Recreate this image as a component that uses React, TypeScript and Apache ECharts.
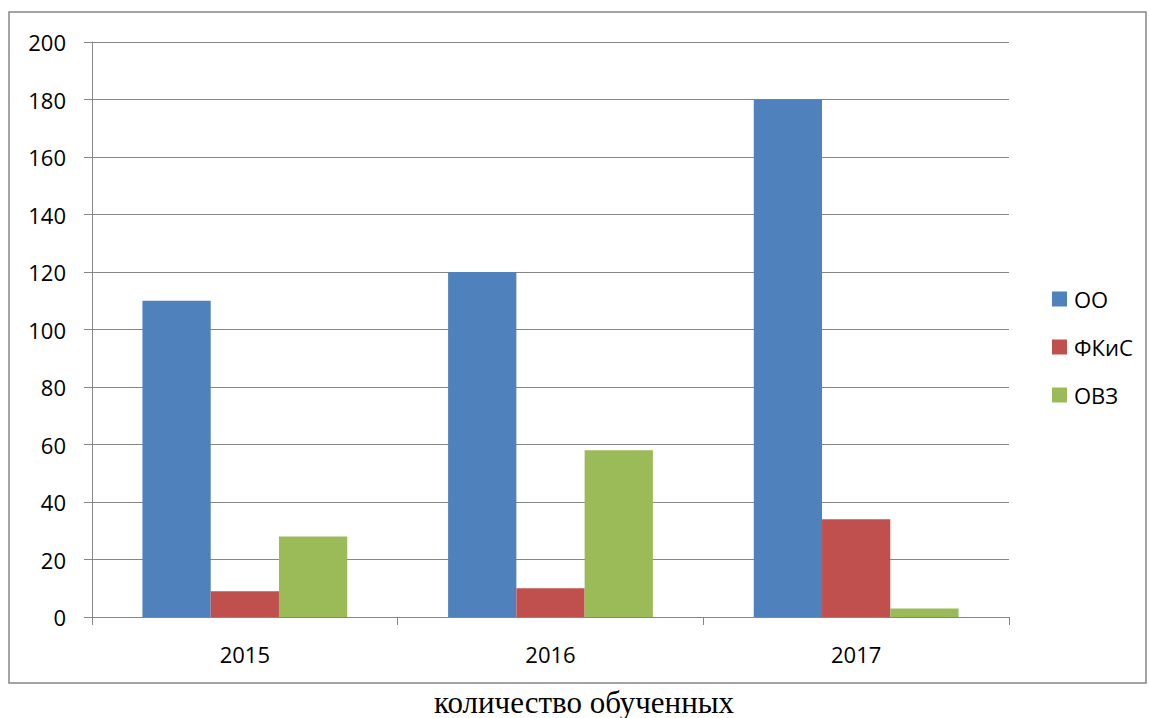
import React, { useEffect, useRef } from "react";
import * as echarts from "echarts";

const categories = ["2015", "2016", "2017"];
const seriesNames = ["ОО", "ФКиС", "ОВЗ"];
const valuesOO = [110, 120, 180];
const valuesFKiS = [9, 10, 34];
const valuesOVZ = [28, 58, 3];
const colors = ["#4F81BD", "#C0504D", "#9BBB59"];
const titleText = "количество обученных";

export default function App() {
  const ref = useRef<HTMLDivElement>(null);
  useEffect(() => {
    if (!ref.current) return;
    const chart = echarts.init(ref.current, null, { renderer: "svg" });
    const font = "Open Sans";
    const gray = "#868686";
    const data = [valuesOO, valuesFKiS, valuesOVZ];
    chart.setOption({
      animation: false,
      backgroundColor: "#fff",
      grid: { left: 92, right: 140, top: 42, bottom: 101, containLabel: false },
      legend: {
        orient: "vertical",
        left: 1052,
        top: 288,
        padding: 0,
        itemWidth: 15,
        itemHeight: 15,
        itemGap: 26,
        icon: "rect",
        textStyle: { fontFamily: font, fontSize: 22, color: "#000", lineHeight: 22, padding: [0, 0, 0, 2] },
        data: seriesNames,
      },
      xAxis: {
        type: "category",
        data: categories,
        axisLine: { lineStyle: { color: gray, width: 1 } },
        axisTick: { show: true, length: 8, lineStyle: { color: gray } },
        axisLabel: { fontFamily: font, fontSize: 22, color: "#000", margin: 26 },
      },
      yAxis: {
        type: "value",
        min: 0,
        max: 200,
        interval: 20,
        axisLine: { show: true, lineStyle: { color: gray, width: 1 } },
        axisTick: { show: true, length: 8, lineStyle: { color: gray } },
        axisLabel: { fontFamily: font, fontSize: 22, color: "#000", margin: 26 },
        splitLine: { lineStyle: { color: gray, width: 1 } },
      },
      series: seriesNames.map((name, i) => ({
        name,
        type: "bar",
        data: data[i],
        barGap: "0%",
        barCategoryGap: "33%",
        itemStyle: { color: colors[i] },
      })),
      graphic: [
        {
          type: "rect",
          shape: { x: 9, y: 12, width: 1137, height: 671 },
          style: { fill: "none", stroke: gray, lineWidth: 1.5 },
          silent: true,
        },
        {
          type: "text",
          x: 584,
          y: 702,
          style: {
            text: titleText,
            fontFamily: "Liberation Serif",
            fontSize: 31,
            fill: "#000",
            textAlign: "center",
            textVerticalAlign: "middle",
          },
        },
      ],
    });
    return () => chart.dispose();
  }, []);
  return (
    <div
      ref={ref}
      style={{ position: "fixed", left: 0, top: 0, width: 1149, height: 718 }}
    />
  );
}
